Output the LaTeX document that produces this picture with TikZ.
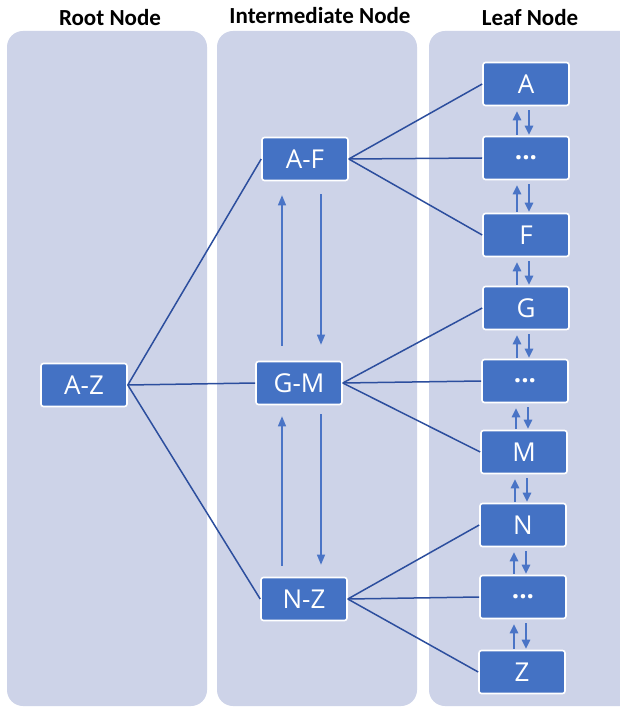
\documentclass[tikz,border=0pt]{standalone}
\usepackage{fontspec}
\setmainfont{Open Sans}
\newfontfamily\headfont{Carlito}
\usetikzlibrary{arrows.meta,calc}
\definecolor{panel}{HTML}{CDD3E8}
\definecolor{nodeblue}{HTML}{4472C4}
\definecolor{edgeblue}{HTML}{2C4E9E}
\definecolor{arrblue}{HTML}{4A74C6}
\begin{document}
\begin{tikzpicture}[x=1pt,y=-1pt,
 box/.style={rectangle, fill=nodeblue, draw=white, line width=1.6pt, rounded corners=2.5pt,
   minimum width=86pt, minimum height=43pt, text=white, inner sep=0pt,
   font=\fontsize{26}{26}\selectfont},
 lane/.style={fill=panel, rounded corners=16pt},
 head/.style={font=\headfont\bfseries\fontsize{23}{23}\selectfont, anchor=base},
 edge/.style={draw=edgeblue, line width=1.5pt},
 flow/.style={draw=arrblue, line width=1.2pt, -{Triangle[length=10pt,width=8pt]}},
 leafflow/.style={draw=arrblue, line width=1.3pt, -{Triangle[length=9pt,width=8.5pt]}}]
\useasboundingbox (0,0) rectangle (619,708);
\fill[white] (0,0) rectangle (619,708);
% lanes
\fill[lane] (7,31) rectangle (207,706);
\fill[lane] (217,31) rectangle (417,706);
\fill[lane] (429,31) rectangle (640,706);
% headers
\node[head] (h1) at (110,26) {Root Node};
\node[head] (h2) at (320,24) {Intermediate Node};
\node[head] (h3) at (530,26) {Leaf Node};
% nodes
\node[box] (az) at (84,385) {A-Z};
\node[box] (af) at (305,159) {A-F};
\node[box] (gm) at (299,383) {G-M};
\node[box] (nz) at (304,599) {N-Z};
\node[box] (la) at (526,84) {A};
\node[box] (l1) at (526,158) {\textbf{...}};
\node[box] (lf) at (526,235) {F};
\node[box] (lg) at (526,308) {G};
\node[box] (l2) at (525,381) {\textbf{...}};
\node[box] (lm) at (524,452) {M};
\node[box] (ln) at (523,525) {N};
\node[box] (l3) at (523,597) {\textbf{...}};
\node[box] (lz) at (522,672) {Z};
% root edges
\draw[edge] (az.east) -- (af.west);
\draw[edge] (az.east) -- (gm.west);
\draw[edge] (az.east) -- (nz.west);
% intermediate edges
\foreach \s/\t in {af/la, af/l1, af/lf, gm/lg, gm/l2, gm/lm, nz/ln, nz/l3, nz/lz}
  \draw[edge] (\s.east) -- (\t.west);
% intermediate arrows
\draw[flow] ($(gm.north)+(-17,-15)$) -- ($(af.south)+(-23,14)$);
\draw[flow] ($(af.south)+(16,13)$) -- ($(gm.north)+(22,-16)$);
\draw[flow] ($(nz.north)+(-22,-11)$) -- ($(gm.south)+(-17,11)$);
\draw[flow] ($(gm.south)+(22,9)$) -- ($(nz.north)+(17,-12)$);
% leaf arrows
\foreach \u/\l in {la/l1, l1/lf, lf/lg, lg/l2, l2/lm, lm/ln, ln/l3, l3/lz} {
  \coordinate (pu) at ($(\u.south)+(-9,5)$);
  \coordinate (pd) at ($(\u.south)+(3,4)$);
  \draw[leafflow] ($(\l.north -| pu)+(0,-1)$) -- (pu);
  \draw[leafflow] (pd) -- ($(\l.north -| pd)+(0,-1)$);
}
\end{tikzpicture}
\end{document}
